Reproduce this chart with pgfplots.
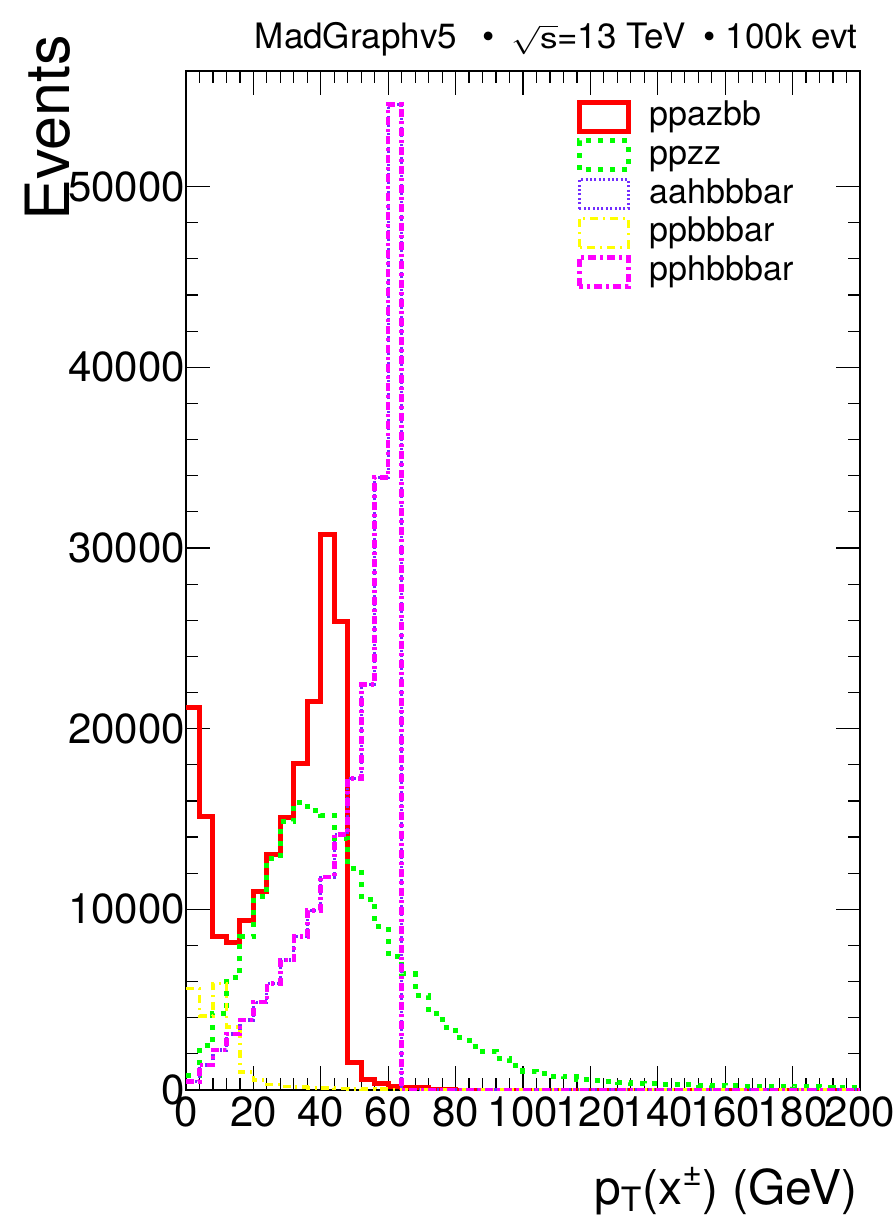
\documentclass[border=0pt]{standalone}
\usepackage{pgfplots}
\pgfplotsset{compat=1.18}
\usepackage{graphicx}
\usepackage{fontspec}
\setmainfont{TeX Gyre Heros}
\definecolor{rred}{RGB}{255,0,0}
\definecolor{rgreen}{RGB}{0,255,0}
\definecolor{rviolet}{RGB}{115,45,255}
\definecolor{ryellow}{RGB}{255,255,0}
\definecolor{rmagenta}{RGB}{255,0,255}
\begin{document}
\begin{tikzpicture}
\begin{axis}[
  scale only axis, width=337pt, height=509.5pt,
  xmin=0, xmax=200, ymin=0, ymax=56400,
  xtick={0,20,...,200}, ytick={0,10000,...,50000},
  minor x tick num=4, minor y tick num=4,
  tick align=inside, major tick length=12pt, minor tick length=6pt,
  scaled y ticks=false,
  /pgf/number format/1000 sep={},
  /pgf/number format/assume math mode=true,
  ticklabel style={font=\fontsize{21}{24}\selectfont},
  yticklabel style={xshift=3pt},
  axis line style={line width=0.6pt},
  every tick/.style={black, line width=0.6pt},
  legend style={at={(0.58,0.972)}, anchor=north west, draw=none, fill=none,
    inner sep=0pt, outer sep=0pt, font=\fontsize{17}{20}\selectfont,
    row sep=2.4pt, column sep=9.5pt,
    nodes={inner sep=0pt, text height=13pt, text depth=4pt}},
  legend cell align=left,
  legend image code/.code={\draw[#1] (0pt,-7.25pt) rectangle (24.5pt,7.25pt);},
]
\coordinate (SW) at (rel axis cs:0,0);
\coordinate (NE) at (rel axis cs:1,1);
% ppazbb
\addplot[const plot, rred, line width=2.5pt] coordinates {
(0,21170)(4,15120)(8,8480)(12,8170)(16,9370)(20,10970)(24,13040)(28,15080)(32,18060)(36,21500)
(40,30750)(44,25950)(48,1540)(52,580)(56,350)(60,180)(64,150)(68,130)(72,30)(76,10)
(80,0)(84,0)(88,0)(92,0)(96,0)(100,0)(104,0)(108,0)(112,0)(116,0)(120,0)(124,0)(128,0)(132,0)
(136,0)(140,0)(144,0)(148,0)(152,0)(156,0)(160,0)(164,0)(168,0)(172,0)(176,0)(180,0)(184,0)
(188,0)(192,0)(196,0)(200,0)};
\addlegendentry{ppazbb}
% ppzz
\addplot[const plot, rgreen, line width=2.5pt, dash pattern=on 2.5pt off 3.5pt] coordinates {
(0,820)(4,2440)(8,4220)(12,6210)(16,8480)(20,10690)(24,12820)(28,14840)(32,15930)(36,15480)
(40,15210)(44,13900)(48,12260)(52,10560)(56,9030)(60,7410)(64,6430)(68,5230)(72,4240)(76,3470)
(80,2890)(84,2400)(88,2150)(92,1750)(96,1340)(100,1050)(104,920)(108,770)(112,720)(116,600)
(120,520)(124,460)(128,420)(132,380)(136,350)(140,320)(144,300)(148,280)(152,260)(156,240)
(160,230)(164,220)(168,210)(172,200)(176,190)(180,180)(184,170)(188,160)(192,150)(196,140)(200,140)};
\addlegendentry{ppzz}
% aahbbbar
\addplot[const plot, rviolet, line width=1.6pt, dash pattern=on 1pt off 1.2pt] coordinates {
(0,460)(4,1380)(8,2210)(12,3100)(16,3870)(20,4860)(24,5900)(28,7190)(32,8480)(36,9920)
(40,11780)(44,14150)(48,17240)(52,22460)(56,33900)(60,54530)(64,0)(68,0)(72,0)(76,0)
(80,0)(84,0)(88,0)(92,0)(96,0)(100,0)(104,0)(108,0)(112,0)(116,0)(120,0)(124,0)(128,0)(132,0)
(136,0)(140,0)(144,0)(148,0)(152,0)(156,0)(160,0)(164,0)(168,0)(172,0)(176,0)(180,0)(184,0)
(188,0)(192,0)(196,0)(200,0)};
\addlegendentry{aahbbbar}
% ppbbbar
\addplot[const plot, ryellow, line width=1.8pt, dash pattern=on 4pt off 2.5pt on 1pt off 2.5pt] coordinates {
(0,5620)(4,4100)(8,5900)(12,3500)(16,1000)(20,550)(24,300)(28,200)(32,150)(36,120)
(40,100)(44,80)(48,60)(52,50)(56,40)(60,30)(64,20)(68,10)(72,10)(76,0)
(80,0)(84,0)(88,0)(92,0)(96,0)(100,0)(104,0)(108,0)(112,0)(116,0)(120,0)(124,0)(128,0)(132,0)
(136,0)(140,0)(144,0)(148,0)(152,0)(156,0)(160,0)(164,0)(168,0)(172,0)(176,0)(180,0)(184,0)
(188,0)(192,0)(196,0)(200,0)};
\addlegendentry{ppbbbar}
% pphbbbar
\addplot[const plot, rmagenta, line width=2.3pt, dash pattern=on 4pt off 2pt on 1.5pt off 2pt] coordinates {
(0,460)(4,1380)(8,2210)(12,3100)(16,3870)(20,4860)(24,5900)(28,7190)(32,8480)(36,9920)
(40,11780)(44,14150)(48,17240)(52,22460)(56,33900)(60,54530)(64,0)(68,0)(72,0)(76,0)
(80,0)(84,0)(88,0)(92,0)(96,0)(100,0)(104,0)(108,0)(112,0)(116,0)(120,0)(124,0)(128,0)(132,0)
(136,0)(140,0)(144,0)(148,0)(152,0)(156,0)(160,0)(164,0)(168,0)(172,0)(176,0)(180,0)(184,0)
(188,0)(192,0)(196,0)(200,0)};
\addlegendentry{pphbbbar}
\end{axis}
\node[anchor=base east, font=\fontsize{17.5}{18}\selectfont, inner sep=0pt] at ([shift={(-1pt,11pt)}]NE)
  {MadGraphv5\hspace{13pt}\textbullet\hspace{8pt}\scalebox{1}[0.82]{$\sqrt{\hbox{s}}$}=13 TeV\hspace{9pt}\textbullet\hspace{5pt}100k evt};
\node[rotate=90, anchor=base east, font=\fontsize{30.5}{34}\selectfont, inner sep=0pt] at ([shift={(-58pt,18pt)}]SW |- NE) {Events};
\node[anchor=base east, font=\fontsize{24}{28}\selectfont, inner sep=0pt] at ([shift={(-1pt,-57pt)}]NE |- SW)
  {p\textsubscript{T}(x\textsuperscript{±}) (GeV)};
\pgfresetboundingbox
\path ([shift={(-93pt,-63.5pt)}]SW) rectangle ([shift={(17pt,35.5pt)}]NE);
\end{tikzpicture}
\end{document}
